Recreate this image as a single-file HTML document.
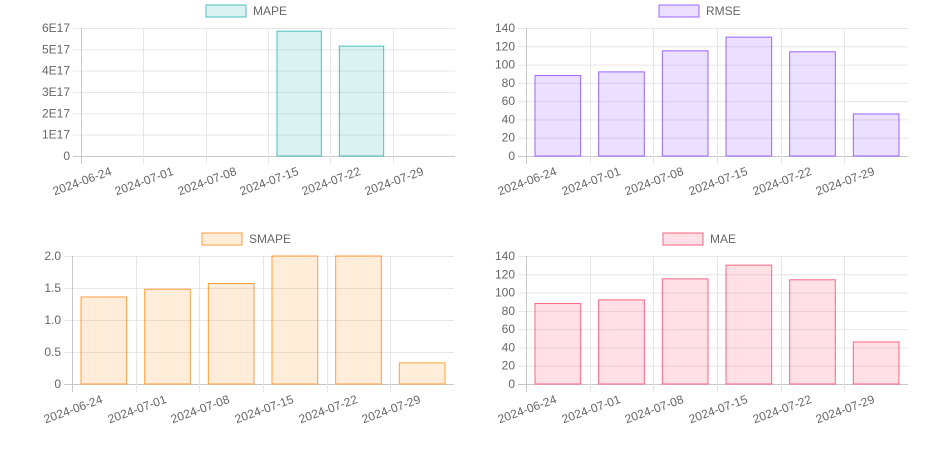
<!DOCTYPE html>
<html><head><meta charset="utf-8"><style>
body{margin:0;background:#fff;width:927px;height:451px;overflow:hidden}
svg{display:block}
text{font-family:"Liberation Sans",Arial,sans-serif;font-size:12px;fill:#666}
</style></head><body>
<svg id="s" width="927" height="451" xmlns="http://www.w3.org/2000/svg"></svg>
<script>
const C=[
{l:81,r:455,t:28,b:156,ticks:["0","1E17","2E17","3E17","4E17","5E17","6E17"],max:6,v:[0,0,0,5.85,5.15,0],name:"MAPE",lx:206,ly:5,f:"rgba(75,192,192,0.2)",s:"rgb(75,192,192)"},
{l:526,r:908,t:28,b:156,ticks:["0","20","40","60","80","100","120","140"],max:140,v:[88,92,115,130,114,46],name:"RMSE",lx:659,ly:5,f:"rgba(153,102,255,0.2)",s:"rgb(153,102,255)"},
{l:72,r:454,t:256,b:384,ticks:["0","0.5","1.0","1.5","2.0"],max:2,v:[1.36,1.48,1.57,2,2,0.33],name:"SMAPE",lx:202,ly:233,f:"rgba(255,159,64,0.2)",s:"rgb(255,159,64)"},
{l:526,r:908,t:256,b:384,ticks:["0","20","40","60","80","100","120","140"],max:140,v:[88,92,115,130,114,46],name:"MAE",lx:663,ly:233,f:"rgba(255,99,132,0.2)",s:"rgb(255,99,132)"}];
const D=["2024-06-24","2024-07-01","2024-07-08","2024-07-15","2024-07-22","2024-07-29"];
let h="";
for(const c of C){
 const n=c.ticks.length-1,H=c.b-c.t,W=c.r-c.l,cw=W/6;
 c.ticks.forEach((t,i)=>{const y=c.t+H-i*H/n;
  h+=`<line x1="${c.l-8}" x2="${c.r}" y1="${y+.5}" y2="${y+.5}" stroke="${i==0?'#c8c8c8':'#e6e6e6'}"/>`;
  h+=`<text x="${c.l-11}" y="${y+4}" text-anchor="end">${t}</text>`;});
 for(let i=0;i<6;i++){const x=Math.round(c.l+i*cw)+.5;
  h+=`<line x1="${x}" x2="${x}" y1="${c.t}" y2="${c.b+8}" stroke="${i==0?'#c8c8c8':'#e6e6e6'}"/>`;
  h+=`<text transform="translate(${x+2},${c.b+29}) rotate(-20)" text-anchor="middle">${D[i]}</text>`;}
 c.v.forEach((v,i)=>{if(!v)return;const x=c.l+i*cw+9,w=cw-18,y=c.b-v/c.max*H;
  h+=`<rect x="${x}" y="${y}" width="${w}" height="${c.b-y}" fill="${c.f}" stroke="${c.s}" stroke-width="1"/>`;});
 h+=`<rect x="${c.lx}" y="${c.ly}" width="40" height="12" fill="${c.f}" stroke="${c.s}"/>`;
 h+=`<text x="${c.lx+47}" y="${c.ly+10}">${c.name}</text>`;
}
document.getElementById("s").innerHTML=h;
</script>
</body></html>
